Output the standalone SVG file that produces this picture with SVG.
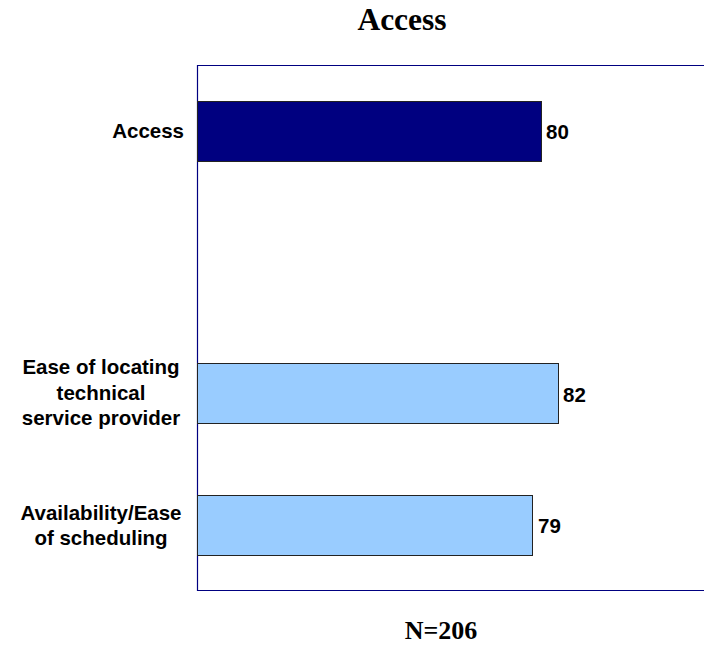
<svg xmlns="http://www.w3.org/2000/svg" width="704" height="647" viewBox="0 0 704 647">
<style>
.cat{font-family:"Liberation Sans",Arial,sans-serif;font-weight:bold;font-size:20.5px;fill:#000}
.val{font-family:"Liberation Sans",Arial,sans-serif;font-weight:bold;font-size:20.5px;fill:#000}
.ttl{font-family:"Liberation Serif","Times New Roman",serif;font-weight:bold;fill:#000}
.bar{stroke:#222;stroke-width:1}
.axis{stroke:#000080;stroke-width:1.2;fill:none}
</style>
<rect width="704" height="647" fill="#fff"/>
<text class="ttl" x="402" y="30" font-size="31.5" text-anchor="middle">Access</text>
<g id="plot-frame">
<path class="axis" d="M704,65.5 H197.5 V590.5 H704"/>
</g>
<g id="bar-access">
<rect class="bar" x="197.5" y="101.5" width="344" height="60" fill="#000080"/>
<text class="val" x="546" y="139">80</text>
<text class="cat" x="184" y="138" text-anchor="end">Access</text>
</g>
<g id="bar-ease-locating">
<rect class="bar" x="197.5" y="363.5" width="361" height="60" fill="#99CCFF"/>
<text class="val" x="563" y="402">82</text>
<text class="cat" x="101" text-anchor="middle"><tspan x="101" y="374">Ease of locating</tspan><tspan x="101" y="400">technical</tspan><tspan x="101" y="425">service provider</tspan></text>
</g>
<g id="bar-availability">
<rect class="bar" x="197.5" y="495.5" width="335" height="60" fill="#99CCFF"/>
<text class="val" x="538" y="533">79</text>
<text class="cat" x="101" text-anchor="middle"><tspan x="101" y="520">Availability/Ease</tspan><tspan x="101" y="545">of scheduling</tspan></text>
</g>
<g id="connectors"></g>
<text class="ttl" x="441" y="639" font-size="26" text-anchor="middle">N=206</text>
</svg>
